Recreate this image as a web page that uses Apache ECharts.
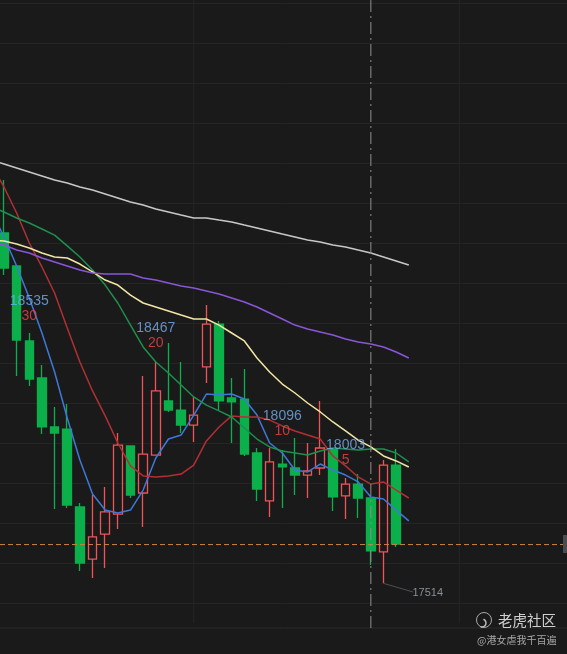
<!DOCTYPE html>
<html><head><meta charset="utf-8">
<style>html,body{margin:0;padding:0;background:#1a1a1a}#c{width:567px;height:654px}</style>
<script src="https://cdn.jsdelivr.net/npm/echarts@6/dist/echarts.min.js"></script>
</head><body><div id="c"></div>
<script>
// candle order: [open, close, low, high]
const candles = [
 [19546,19343,19302,19853],[19355,18925,18717,19355],[18920,18699,18659,18966],[18705,18421,18380,18780],
 [18421,18386,17945,18537],[18409,17968,17951,18554],[17957,17632,17586,17980],[17655,17783,17545,18026],
 [17800,17928,17603,18073],[17916,18316,17829,18386],[18311,18026,18009,18311],[18038,18264,17841,18717],
 [18258,18630,18258,18798],[18572,18519,18508,18908],[18519,18432,18386,18798],[18432,18490,18334,18595],
 [18769,19018,18676,19128],[19018,18572,18519,19036],[18589,18566,18328,18705],[18583,18264,18253,18757],
 [18270,18061,17992,18299],[17992,18218,17899,18299],[18206,18189,17951,18287],[18183,18142,18026,18357],
 [18142,18166,18009,18328],[18183,18299,18142,18572],[18293,18015,17934,18293],[18021,18090,17887,18125],
 [18090,18009,17893,18148],[18009,17702,17620,18009],[17696,18200,17514,18229],[18200,17742,17725,18293]
];
const ma5 = [19674,19523,19355,19169,18966,18740,18473,18229,18032,17939,17922,17939,18055,18241,18351,18374,18490,18612,18606,18612,18583,18490,18328,18270,18171,18160,18206,18171,18142,18102,18015,18003,17939,17876];
const ma10 = [19940,19813,19662,19488,19349,19198,18995,18798,18630,18485,18328,18195,18137,18131,18137,18148,18200,18340,18421,18485,18479,18479,18461,18427,18398,18374,18351,18253,18195,18131,18090,18102,18055,18009];
const ma20 = [19697,19668,19633,19604,19569,19534,19471,19407,19331,19244,19140,19012,18885,18798,18734,18664,18595,18548,18514,18479,18415,18351,18305,18282,18270,18258,18282,18299,18293,18287,18293,18293,18270,18218];
const maYellow = [19505,19500,19482,19459,19430,19407,19401,19366,19320,19273,19244,19186,19140,19117,19094,19070,19047,19047,19012,18966,18920,18821,18740,18670,18618,18560,18508,18450,18398,18345,18305,18253,18224,18189];
const maPurple = [19500,19476,19447,19430,19401,19378,19355,19331,19314,19308,19308,19308,19285,19273,19256,19239,19227,19210,19192,19169,19146,19117,19082,19047,19012,18989,18972,18954,18931,18914,18902,18885,18856,18821];
const maWhite = [19969,19946,19923,19900,19877,19853,19836,19813,19795,19772,19749,19726,19708,19685,19668,19650,19633,19633,19621,19610,19592,19575,19558,19540,19523,19505,19494,19476,19465,19447,19430,19407,19384,19360];
const lastPrice = 17739;
const bottomRule = 17255;
const gridLineBars = [16, 37];
const gridLineEnd = 17284;
const crosshairBar = 30;
const noteTexts = ['18535','30','18467','20','18096','10','18003','5'];
const noteBars = [3,3,13,13,23,23,28,28];
const noteValues = [19152,19065,18995,18908,18485,18398,18316,18229];
const lowLabel = '17514';
const lowBar = 31;
const lowValue = 17514;
const lowLabelBar = 34.5;
const lowLabelValue = 17458;
const lowLeaderBar = 33.33;
const lowLeaderValue = 17464;
const brand = '老虎社区';
const author = '@港女虐我千百遍';

// visible window of the bar-number axis
const barMin = 0.6842, barMax = 45.506;
const gridCol = '#252525';
const indexed = arr => arr.map((v,i)=>[i,v]);
function ma(name,data,color){
  return {name,type:'line',data:indexed(data),xAxisIndex:1,yAxisIndex:1,symbol:'none',smooth:false,z:5,
    lineStyle:{color,width:1.5},silent:true};
}
const chart = echarts.init(document.getElementById('c'),null,{renderer:'canvas'});
const font = '"Liberation Sans",Arial,sans-serif';
const noteData = noteTexts.map((t,i)=>({value:[noteBars[i],noteValues[i]],
  label:{formatter:t,color:i%2?'#e8464b':'#74aeee'}}));
chart.setOption({
  animation:false,
  backgroundColor:'#1a1a1a',
  grid:[
    {left:0,top:3,width:567,height:600,containLabel:false},
    {left:0,top:0,width:567,height:654,containLabel:false}
  ],
  xAxis:[
    {type:'value',gridIndex:0,min:barMin,max:barMax,axisLine:{show:false},axisTick:{show:false},axisLabel:{show:false},splitLine:{show:false}},
    {type:'value',gridIndex:1,min:barMin,max:barMax,axisLine:{show:false},axisTick:{show:false},axisLabel:{show:false},splitLine:{show:false}}
  ],
  yAxis:[
    {type:'value',gridIndex:0,min:17400,max:20880,interval:232,axisLine:{show:false},axisTick:{show:false},axisLabel:{show:false},
      splitLine:{show:true,lineStyle:{color:gridCol,width:1}}},
    {type:'value',gridIndex:1,min:17104.2,max:20897.4,axisLine:{show:false},axisTick:{show:false},axisLabel:{show:false},splitLine:{show:false}}
  ],
  series:[
    ...gridLineBars.map(b=>({type:'line',xAxisIndex:1,yAxisIndex:1,symbol:'none',silent:true,z:1,
      data:[[b,gridLineEnd],[b,20897]],lineStyle:{color:gridCol,width:1}})),
    {type:'line',xAxisIndex:1,yAxisIndex:1,symbol:'none',silent:true,z:1,
      data:[[barMin,bottomRule],[barMax,bottomRule]],lineStyle:{color:'#2a2a2a',width:1}},
    {type:'candlestick',xAxisIndex:1,yAxisIndex:1,data:candles.map((d,i)=>[i+1].concat(d)),
      encode:{x:0,y:[1,2,3,4]},barWidth:9,z:3,silent:true,
      itemStyle:{color:'transparent',color0:'#0bb04a',borderColor:'#ee5458',borderColor0:'#0bb04a',borderWidth:1.3}},
    ma('MA5',ma5,'#3f78d8'),
    ma('MA10',ma10,'#b03034'),
    ma('MA20',ma20,'#1f8f4e'),
    ma('MAY',maYellow,'#f3e6a5'),
    ma('MAP',maPurple,'#8a55d8'),
    ma('MAW',maWhite,'#c8c8c8'),
    {type:'line',xAxisIndex:1,yAxisIndex:1,symbol:'none',silent:true,z:6,
      data:[[barMin,lastPrice],[barMax,lastPrice]],lineStyle:{color:'#cf7f3e',width:1,type:[5,3]}},
    {type:'line',xAxisIndex:1,yAxisIndex:1,symbol:'none',silent:true,z:6,
      data:[[crosshairBar,bottomRule],[crosshairBar,20897]],lineStyle:{color:'#8f8f8f',width:1,type:[12,4,2,4]}},
    {type:'line',xAxisIndex:1,yAxisIndex:1,symbol:'none',silent:true,z:6,
      data:[[lowBar,lowValue],[lowLeaderBar,lowLeaderValue]],lineStyle:{color:'#4f4f4f',width:1}},
    {type:'scatter',xAxisIndex:1,yAxisIndex:1,symbolSize:0,silent:true,z:7,data:noteData,
      label:{show:true,position:[0,0],align:'center',verticalAlign:'middle',fontSize:14,fontFamily:font}},
    {type:'scatter',xAxisIndex:1,yAxisIndex:1,symbolSize:0,silent:true,z:7,data:[[lowLabelBar,lowLabelValue]],
      label:{show:true,position:[0,0],align:'center',verticalAlign:'middle',fontSize:11,fontFamily:font,color:'#a3abb5',formatter:lowLabel}}
  ],
  graphic:[
    {type:'rect',shape:{x:563,y:535,width:4,height:18},style:{fill:'#4a4d50'},silent:true,z:10},
    {type:'circle',shape:{cx:484,cy:620,r:7.5},style:{fill:'none',stroke:'#a8a8a8',lineWidth:1},silent:true,z:10},
    {type:'arc',shape:{cx:482,cy:623,r:4,startAngle:-1.2,endAngle:1.9},style:{fill:'none',stroke:'#bbbbbb',lineWidth:1.5},silent:true,z:10},
    {type:'text',style:{x:498,y:620,text:brand,fill:'#d0d0d0',font:'14.5px "Noto Sans CJK SC"',textVerticalAlign:'middle'},silent:true,z:10},
    {type:'text',style:{x:477,y:640,text:author,fill:'#a8a8a8',font:'10px "Noto Sans CJK SC"',textVerticalAlign:'middle'},silent:true,z:10}
  ]
});
</script></body></html>
